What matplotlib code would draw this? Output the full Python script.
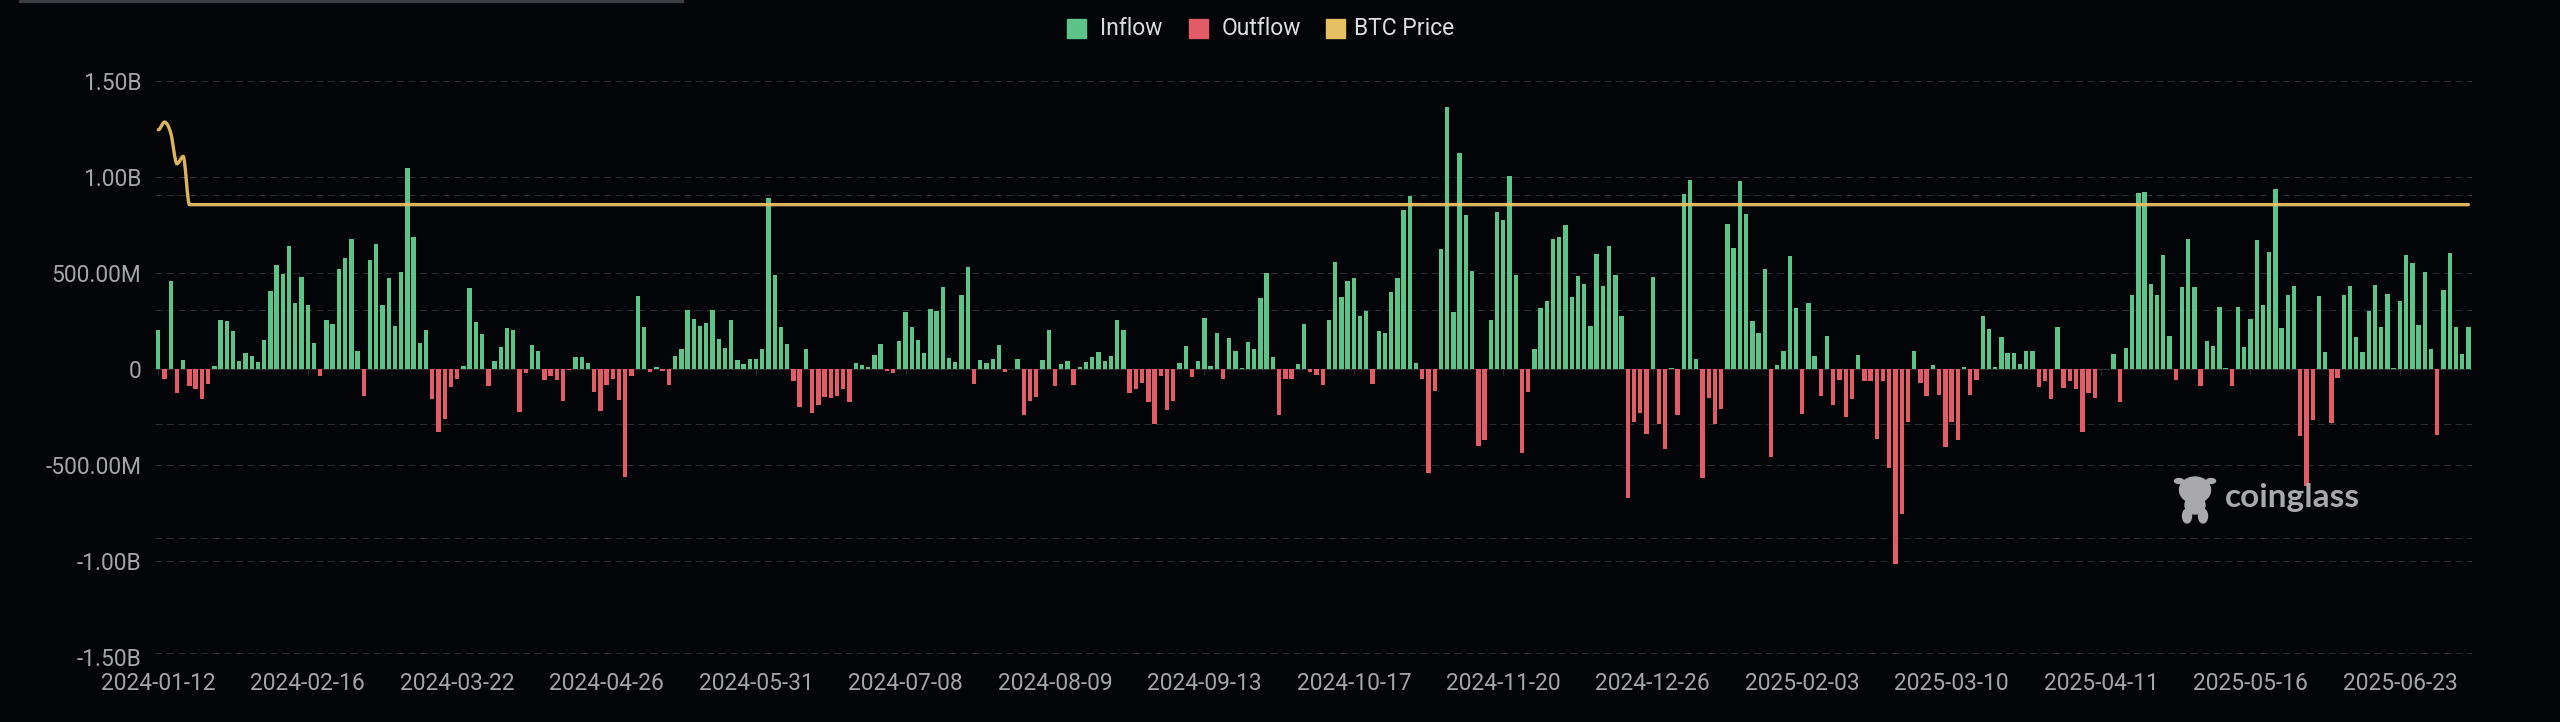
import matplotlib
matplotlib.use("Agg")
import matplotlib.pyplot as plt
import numpy as np
from matplotlib.patches import Ellipse, PathPatch, Rectangle
from matplotlib.path import Path
from matplotlib.transforms import Affine2D

# net flow per day, in $M
net_flow = [
    205, -52, 457, -127, 45, -87, -106, -158, -78, 17, 257, 250, 200, 40, 82, 69, 35, 149, 406, 543, 497,
    639, 342, 479, 332, 137, -35, 253, 233, 521, 580, 677, 95, -139, 566, 651, 333, 476, 226, 507, 1049, 687,
    135, 201, -155, -326, -262, -94, -52, 17, 420, 247, 184, -87, 40, 115, 215, 205, -224, -19, 125, 92, -56,
    -36, -59, -165, -3, 62, 62, 31, -122, -219, -85, -52, -161, -564, -35, 380, 219, -14, 12, -10, -85,
    68, 102, 306, 259, 222, 240, 307, 156, 111, 255, 47, 28, 50, 50, 106, 889, 491, 219, 132, -64, -200,
    102, -227, -189, -146, -151, -141, -106, -174, 31, 23, 12, 75, 130, -12, -19, 146, 297, 219, 149, 82,
    312, 302, 425, 56, 38, 387, 533, -78, 47, 33, 54, 125, -17, 0, 52, -238, -168, -148, 47, 203, -90,
    28, 40, -82, 12, 36, 64, 90, 40, 68, 255, 203, -127, -104, -71, -174, -286, -36, -212, -168, 30,
    118, -43, 40, 266, 14, 187, -52, 160, 94, 5, 139, 106, 368, 498, 62, -241, -52, -54, 26, 236, -17,
    -30, -82, 255, 557, 375, 460, 474, 276, 300, -78, 200, 189, 403, 474, 830, 899, 31, -54, -542, -116, 625,
    1364, 295, 1125, 804, 512, -403, -370, 257, 816, 778, 1007, 488, -436, -122, 104, 319, 354, 679, 686, 750,
    375, 486, 441, 224, 599, 432, 641, 488, 274, -674, -278, -227, -339, 477, -288, -415, 7, -241, 910, 983, 52,
    -569, -149, -286, -210, 757, 628, 979, 806, 250, 189, 519, -458, 19, 94, 590, 319, -234, 342, 68, -139,
    172, -186, -56, -252, -155, 71, -61, -64, -365, -64, -516, -1014, -755, -278, 95, -73, -142, 23, -134, -408, -278,
    -372, 12, -135, -59, 276, 210, 12, 167, 83, 85, 28, 92, 92, -92, -61, -158, 219, -99, -64, -102, -326,
    -127, -149, 2, 2, 78, -170, 109, 384, 917, 920, 444, 384, 594, 174, -57, 425, 677, 427, -87, 144,
    118, 323, 5, -90, 321, 116, 262, 670, 332, 609, 939, 214, 387, 434, -347, -611, -267, 378, 89, -279, -47,
    387, 434, 167, 87, 304, 436, 219, 391, 5, 352, 592, 550, 227, 503, 104, -342, 410, 604, 217, 76, 217,
]
# price line as it reads on the left scale
btc_line = [1246, 1286, 1229, 1069, 1107] + [856] * (len(net_flow) - 5)

tick_every = 24
date_labels = [
    "2024-01-12", "2024-02-16", "2024-03-22", "2024-04-26", "2024-05-31", "2024-07-08", "2024-08-09", "2024-09-13",
    "2024-10-17", "2024-11-20", "2024-12-26", "2025-02-03", "2025-03-10", "2025-04-11", "2025-05-16", "2025-06-23",
]
y_ticks = [-1500, -1000, -500, 0, 500, 1000, 1500]
y_labels = ["-1.50B", "-1.00B", "-500.00M", "0", "500.00M", "1.00B", "1.50B"]
price_grid = [908, 306, -285, -880, -1480]

BG = "#030408"
GREEN = "#5cc389"
RED = "#e25c68"
GOLD = "#e8c064"
GRID = "#2b2c31"
TEXT = "#a3a5a9"
W, H = 2560, 722

plt.rcParams["font.family"] = ["Roboto", "DejaVu Sans"]


def smooth_path(ys):
    # monotone bezier through the points, same look as the original smooth line
    ys = np.asarray(ys, float)
    m = np.zeros(len(ys))
    for i in range(1, len(ys) - 1):
        a, b = ys[i] - ys[i - 1], ys[i + 1] - ys[i]
        if a * b > 0:
            m[i] = (a + b) / 2
    verts, codes = [(0, ys[0])], [Path.MOVETO]
    for i in range(len(ys) - 1):
        verts += [(i + 1 / 3, ys[i] + m[i] / 3), (i + 2 / 3, ys[i + 1] - m[i + 1] / 3), (i + 1, ys[i + 1])]
        codes += [Path.CURVE4] * 3
    return Path(verts, codes)


fig = plt.figure(figsize=(W / 100, H / 100), dpi=100, facecolor=BG)
ax = fig.add_axes([155.2 / W, 1 - 657 / H, (2471.5 - 155.2) / W, 576 / H], facecolor=BG)
px = Affine2D().scale(1 / W, -1 / H).translate(0, 1) + fig.transFigure

flow = np.array(net_flow)
x = np.arange(len(flow))
ax.bar(x[flow >= 0], flow[flow >= 0], width=0.7, color=GREEN, zorder=3)
ax.bar(x[flow < 0], flow[flow < 0], width=0.7, color=RED, zorder=3)

dash = (0, (7, 4.5))
for v in y_ticks + price_grid:
    if v != 0:
        ax.axhline(v, color=GRID, lw=0.72, ls=dash, zorder=1)
ax.axhline(0, color=GRID, lw=0.72, zorder=1)

tick_pos = x[::tick_every]
ax.vlines(tick_pos, -30, 0, color=GRID, lw=0.72, zorder=1)
ax.add_patch(PathPatch(smooth_path(btc_line), fc="none", ec=GOLD, lw=2.4, alpha=0.95, zorder=4, capstyle="round"))

ax.set_xlim(-0.5, len(flow) - 0.5)
ax.set_ylim(-1500, 1500)
ax.set_xticks(tick_pos[: len(date_labels)], date_labels)
ax.set_yticks(y_ticks, y_labels)
ax.tick_params(axis="x", length=0, pad=11, labelsize=16.4, labelcolor=TEXT)
ax.tick_params(axis="y", length=0, pad=10, labelsize=16.4, labelcolor=TEXT)
for s in ax.spines.values():
    s.set_visible(False)

# legend
legend_items = [("Inflow", GREEN, 1067, 1100), ("Outflow", RED, 1189, 1222), ("BTC Price", GOLD, 1326, 1354)]
for name, col, sx, tx in legend_items:
    fig.add_artist(Rectangle((sx, 19), 19, 19, color=col, transform=px))
    fig.text(tx, 28.5, name, color="#dcdde0", fontsize=16.5, va="center", ha="left", transform=px)

# watermark
mark = "#a9a9ab"
fig.text(2225, 498, "coinglass", color=mark, fontsize=24, fontweight="bold", va="center", ha="left",
         transform=px, zorder=6, family=["Lato", "DejaVu Sans"])
for cx, cy, ew, eh in [(2195, 490, 31, 26), (2179, 481, 9, 5), (2211, 481, 9, 5), (2195, 505, 20, 18),
                       (2187, 516, 9, 14), (2203, 516, 9, 14)]:
    fig.add_artist(Ellipse((cx, cy), ew, eh, color=mark, transform=px, zorder=6))

# bit of browser chrome at the very top
fig.add_artist(Rectangle((19, 0), 664, 1.5, color="#3a3c42", transform=px))

fig.savefig("out.png", dpi=100, facecolor=BG)
